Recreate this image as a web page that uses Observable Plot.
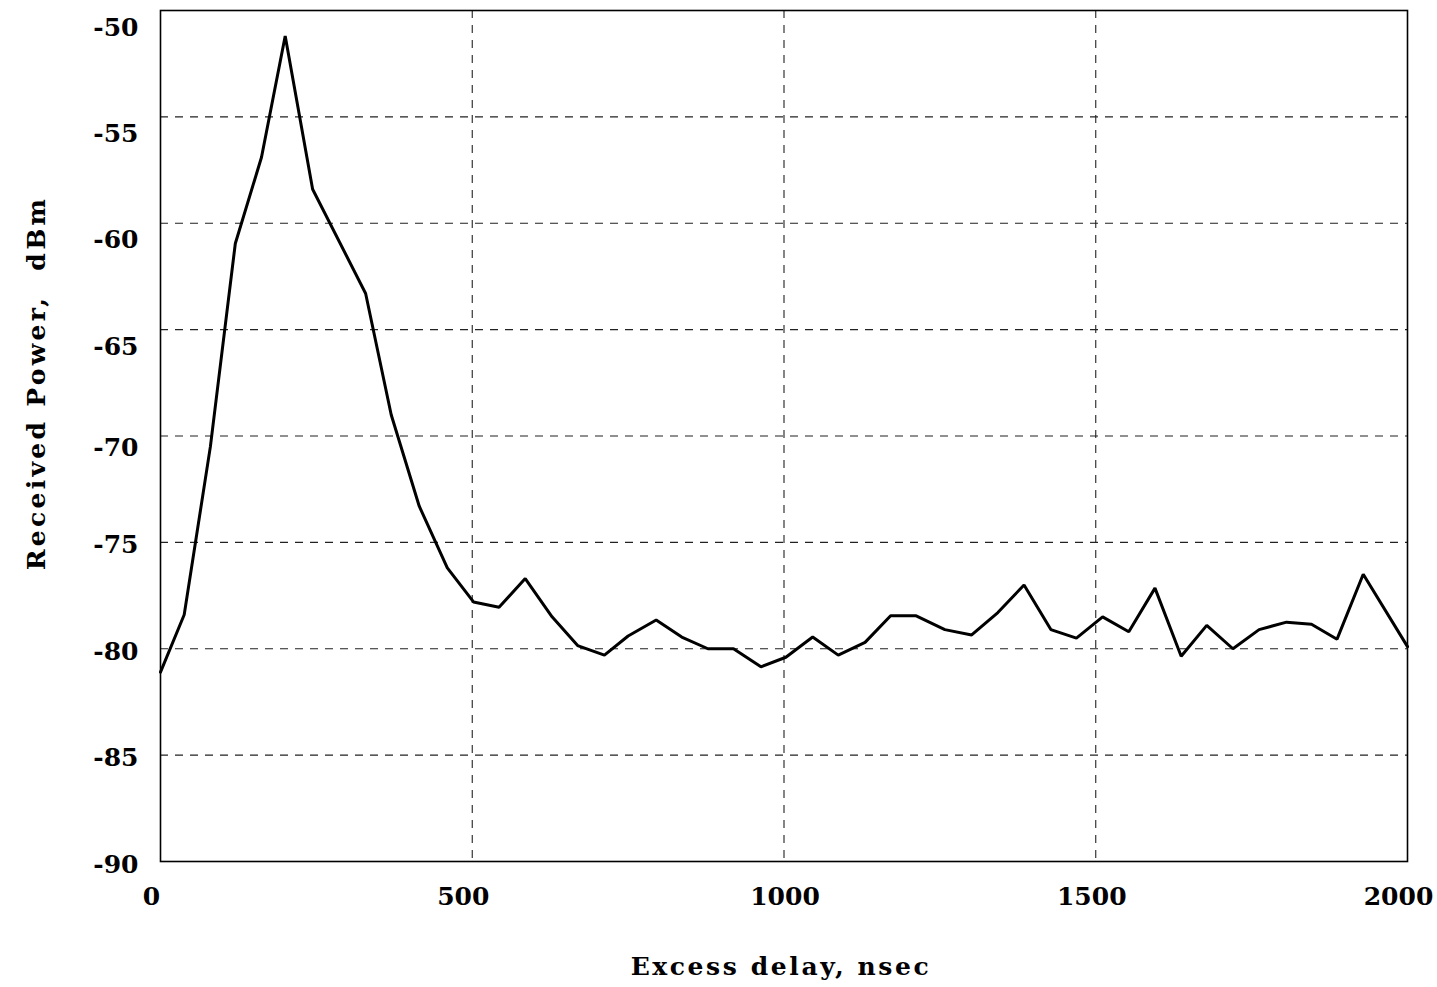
<!DOCTYPE html>
<html>
<head>
<meta charset="utf-8">
<script src="https://cdn.jsdelivr.net/npm/d3@7"></script>
<script src="https://cdn.jsdelivr.net/npm/@observablehq/plot@0.6"></script>
<style>
  html, body { margin: 0; padding: 0; background: #fff; }
  #chart svg { display: block; }
</style>
</head>
<body>
<div id="chart"></div>
<script>
// Excess delay (nsec) and received power (dBm)
const delay = [0, 38, 80, 120, 162, 200, 244, 329, 370, 415, 460, 502, 543, 585, 628, 669, 712, 750, 795, 836, 878, 919, 963, 1003, 1046, 1087, 1130, 1171, 1212, 1258, 1301, 1343, 1385, 1428, 1469, 1511, 1553, 1595, 1637, 1678, 1720, 1762, 1806, 1846, 1887, 1929, 2000];
const power = [-81.1, -78.4, -70.5, -60.95, -56.9, -51.2, -58.4, -63.3, -69.0, -73.3, -76.2, -77.8, -78.05, -76.7, -78.5, -79.85, -80.3, -79.4, -78.65, -79.45, -80.0, -80.0, -80.85, -80.4, -79.45, -80.3, -79.7, -78.45, -78.45, -79.1, -79.35, -78.3, -77.0, -79.1, -79.5, -78.5, -79.2, -77.15, -80.35, -78.9, -80.0, -79.1, -78.75, -78.85, -79.55, -76.5, -79.9];
// tick labels (grouped by how they sit next to their tick in the scanned original)
const xTicksA = [0, 500, 2000];
const xTicksB = [1000];
const xTicksC = [1500];
const yTicksA = [-50, -55, -60, -65];
const yTicksB = [-70];
const yTicksC = [-75, -80, -85, -90];
const xGrid = [500, 1000, 1500];
const yGrid = [-85, -80, -75, -70, -65, -60, -55];
const xLabel = "Excess delay, nsec";
const yLabel = "Received Power,  dBm";

const data = delay.map((d, i) => ({delay: d, power: power[i]}));
const fmt = d => String(d).replace("\u2212", "-");
const tickFont = 25;

const chart = Plot.plot({
  width: 1437,
  height: 987,
  marginTop: 10,
  marginRight: 30,
  marginBottom: 126,
  marginLeft: 160,
  style: {fontFamily: "'DejaVu Serif', serif", fontWeight: "bold", fontSize: "25px", color: "#000", background: "#fff"},
  x: {domain: [0, 2000]},
  y: {domain: [-90, -50]},
  marks: [
    Plot.gridX(xGrid, {stroke: "#222", strokeOpacity: 1, strokeWidth: 1.1, strokeDasharray: "8,7"}),
    Plot.gridY(yGrid, {stroke: "#222", strokeOpacity: 1, strokeWidth: 1.1, strokeDasharray: "8,7"}),
    Plot.frame({stroke: "#000", strokeWidth: 1.6}),
    Plot.axisX(xTicksA, {tickSize: 0, tickPadding: 26, fontSize: tickFont, tickFormat: fmt, label: null, dx: -9}),
    Plot.axisX(xTicksB, {tickSize: 0, tickPadding: 26, fontSize: tickFont, tickFormat: fmt, label: null, dx: 1}),
    Plot.axisX(xTicksC, {tickSize: 0, tickPadding: 26, fontSize: tickFont, tickFormat: fmt, label: null, dx: -4}),
    Plot.axisY(yTicksA, {tickSize: 0, tickPadding: 22, fontSize: tickFont, tickFormat: fmt, label: null, dy: 17}),
    Plot.axisY(yTicksB, {tickSize: 0, tickPadding: 22, fontSize: tickFont, tickFormat: fmt, label: null, dy: 12}),
    Plot.axisY(yTicksC, {tickSize: 0, tickPadding: 22, fontSize: tickFont, tickFormat: fmt, label: null, dy: 3}),
    Plot.text([xLabel], {frameAnchor: "bottom", lineAnchor: "bottom", textAnchor: "middle", dy: 113, dx: -3, fontSize: 25, fontWeight: "bold"}),
    Plot.text([yLabel], {frameAnchor: "left", lineAnchor: "bottom", textAnchor: "middle", rotate: -90, dx: -116, dy: -53, fontSize: 25, fontWeight: "bold"}),
    Plot.line(data, {x: "delay", y: "power", stroke: "#000", strokeWidth: 3, strokeLinejoin: "miter"})
  ]
});
// widen the axis titles to the spacing of the original type
chart.querySelectorAll("text").forEach(t => {
  if (t.textContent === xLabel) t.setAttribute("letter-spacing", "2.6");
  if (t.textContent === yLabel) t.setAttribute("letter-spacing", "3.3");
});
document.getElementById("chart").appendChild(chart);
</script>
</body>
</html>
